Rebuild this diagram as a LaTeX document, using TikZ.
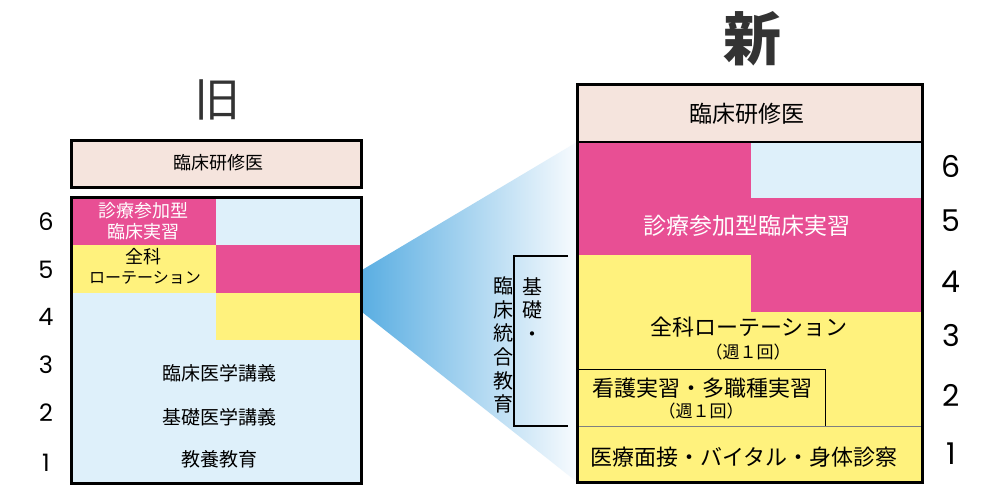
\documentclass[tikz,border=0pt]{standalone}
\usepackage{fontspec}
\setmainfont{Noto Sans CJK JP}
\newfontfamily\numfont{Poppins}
\definecolor{pinkc}{HTML}{E84F94}
\definecolor{yelc}{HTML}{FFF27D}
\definecolor{bluec}{HTML}{DEF0FA}
\definecolor{headc}{HTML}{F5E4DD}
\definecolor{tri1}{HTML}{5AAEE2}
\definecolor{tri2}{HTML}{F8FBFE}
\definecolor{titlec}{HTML}{333333}
\tikzset{
  txt/.style={inner sep=0pt, align=center, text=black},
  wtxt/.style={txt, text=white},
  oldfont/.style={font=\fontsize{18}{21}\selectfont},
  oldkana/.style={font=\fontsize{16}{21}\selectfont},
  oldbig/.style={font=\fontsize{19}{21}\selectfont},
  newfont/.style={font=\fontsize{22}{24}\selectfont},
  smallfont/.style={font=\fontsize{17}{18}\selectfont},
  vfont/.style={font=\fontsize{20}{23.6}\selectfont},
  oldnum/.style={inner sep=0pt, font=\numfont\fontsize{24}{24}\selectfont},
  newnum/.style={inner sep=0pt, font=\numfont\fontsize{30}{30}\selectfont},
  title/.style={inner sep=0pt, text=titlec},
  frame/.style={draw=black, line width=3pt},
  thin/.style={draw=black, line width=1pt},
  bracket/.style={draw=black, line width=2pt}
}
\begin{document}
\begin{tikzpicture}[x=1pt,y=-1pt]
\useasboundingbox[fill=white] (0,0) rectangle (1000,488);

% gradient wedge
\shade[left color=tri1, right color=tri2] (362,270) -- (577,142) -- (577,482) -- (362,312) -- cycle;

% ---------- old ----------
\node[title, font=\fontsize{46}{46}\selectfont] (oldtitle) at (217,100) {旧};
\path[fill=headc] (71,140) rectangle (361,187);
\path[frame] (71,140) rectangle (361,187);
\node[txt, oldfont] (oldhead) at (218,163) {臨床研修医};

\path[fill=bluec] (71,197) rectangle (361,483);
\path[fill=pinkc] (71,197) rectangle (216,245);
\path[fill=yelc] (71,245) rectangle (216,293);
\path[fill=pinkc] (216,245) rectangle (361,293);
\path[fill=yelc] (216,293) rectangle (361,340);
\path[frame] (71,197) rectangle (361,483);

\node[wtxt, oldfont] (o6) at (143,221) {診療参加型\\臨床実習};
\node[txt, oldfont] (o5a) at (143,257) {全科};
\node[txt, oldkana] (o5b) at (145,278) {ローテーション};
\node[txt, oldbig] (o3) at (219,373) {臨床医学講義};
\node[txt, oldbig] (o2) at (219,417) {基礎医学講義};
\node[txt, oldbig] (o1) at (219,459) {教養教育};

\node[oldnum] (on6) at (46,222) {6};
\node[oldnum] (on5) at (46,270) {5};
\node[oldnum] (on4) at (46,317) {4};
\node[oldnum] (on3) at (46,365) {3};
\node[oldnum] (on2) at (46,413) {2};
\node[oldnum] (on1) at (46,463) {1};

% ---------- new ----------
\node[title, font=\bfseries\fontsize{58}{58}\selectfont] (newtitle) at (752,39) {新};
\path[fill=headc] (577,84) rectangle (922,142);
\path[fill=pinkc] (577,142) rectangle (751,255);
\path[fill=bluec] (751,142) rectangle (922,198);
\path[fill=pinkc] (751,198) rectangle (922,312);
\path[fill=yelc] (577,255) rectangle (751,312);
\path[fill=yelc] (577,312) rectangle (922,482);
\path[thin] (577,369) -- (825,369) -- (825,426);
\path[draw=gray, line width=1pt] (577,426) -- (922,426);
\path[draw=black, line width=1.5pt] (577,142) -- (922,142);
\path[frame] (577,84) rectangle (922,482);

\node[txt, font=\fontsize{23}{24}\selectfont] (newhead) at (747,114) {臨床研修医};
\node[wtxt, font=\fontsize{23}{24}\selectfont] (n56) at (747,226) {診療参加型臨床実習};
\node[txt, newfont] (n34) at (749,327) {全科ローテーション};
\node[txt, smallfont] (n34w) at (748,352) {（週１回）};
\node[txt, newfont] (n2) at (702,388) {看護実習・多職種実習};
\node[txt, smallfont] (n2w) at (701,411) {（週１回）};
\node[txt, newfont] (n1) at (744,457) {医療面接・バイタル・身体診察};

\node[newnum] (nn6) at (951,166) {6};
\node[newnum] (nn5) at (951,221) {5};
\node[newnum] (nn4) at (951,282) {4};
\node[newnum] (nn3) at (951,336) {3};
\node[newnum] (nn2) at (951,395) {2};
\node[newnum] (nn1) at (951,454) {1};

% bracket and vertical label
\coordinate (bt) at (568,256);
\coordinate (bb) at (568,426);
\path[bracket] (bt) -- (514,256) -- (514,426) -- (bb);
\node[txt, vfont] (vcol1) at (532,309.5) {基\\礎\\・};
\node[txt, vfont] (vcol2) at (503,345) {臨\\床\\統\\合\\教\\育};
\end{tikzpicture}
\end{document}
